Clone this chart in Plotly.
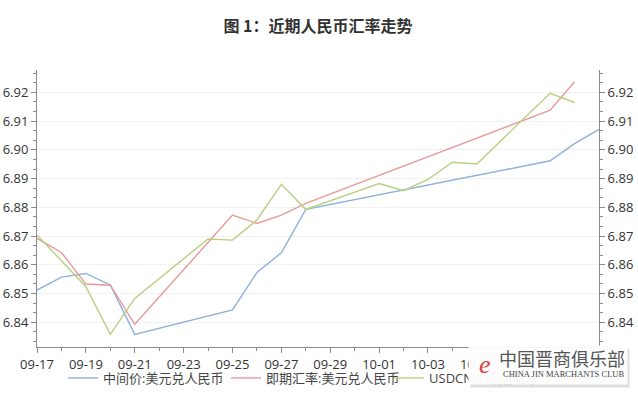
import plotly.graph_objects as go

# ---- data ----
blue_dates = ["2018-09-17", "2018-09-18", "2018-09-19", "2018-09-20", "2018-09-21",
              "2018-09-25", "2018-09-26", "2018-09-27", "2018-09-28",
              "2018-10-08", "2018-10-09", "2018-10-10"]
blue_vals = [6.8512, 6.8557, 6.8570, 6.8530, 6.8358,
             6.8443, 6.8573, 6.8642, 6.8793,
             6.8962, 6.9022, 6.9071]

red_dates = ["2018-09-17", "2018-09-18", "2018-09-19", "2018-09-20", "2018-09-21",
             "2018-09-25", "2018-09-26", "2018-09-27", "2018-09-28",
             "2018-10-08", "2018-10-09"]
red_vals = [6.8692, 6.8643, 6.8533, 6.8529, 6.8393,
            6.8773, 6.8744, 6.8773, 6.8814,
            6.9138, 6.9237]

green_dates = ["2018-09-17", "2018-09-18", "2018-09-19", "2018-09-20", "2018-09-21",
               "2018-09-24", "2018-09-25", "2018-09-26", "2018-09-27", "2018-09-28",
               "2018-10-01", "2018-10-02", "2018-10-03", "2018-10-04", "2018-10-05",
               "2018-10-08", "2018-10-09"]
green_vals = [6.8704, 6.8614, 6.8524, 6.8358, 6.8483,
              6.8690, 6.8686, 6.8756, 6.8880, 6.8793,
              6.8883, 6.8858, 6.8897, 6.8957, 6.8951,
              6.9197, 6.9165]

series_names = ["中间价:美元兑人民币", "即期汇率:美元兑人民币", "USDCNH:即期汇率"]
series_colors = ["#8db1dc", "#e79a9a", "#b9cf82"]

# x tick labels (10-07 and 10-09 are hidden under the watermark in the source)
tick_dates = ["2018-09-17", "2018-09-19", "2018-09-21", "2018-09-23", "2018-09-25",
              "2018-09-27", "2018-09-29", "2018-10-01", "2018-10-03", "2018-10-05",
              "2018-10-07", "2018-10-09"]
tick_labels = ["09-17", "09-19", "09-21", "09-23", "09-25",
               "09-27", "09-29", "10-01", "10-03", "10-05", "", ""]

x_range = ["2018-09-17", "2018-10-10"]
y_range = [6.8314, 6.9278]
title_text = "图 1：近期人民币汇率走势"
watermark_cn = "中国晋商俱乐部"
watermark_en = "CHINA JIN MARCHANTS CLUB"

FONT = "Open Sans, Noto Sans CJK SC, sans-serif"

fig = go.Figure()
for d, v, n, c in zip([blue_dates, red_dates, green_dates],
                      [blue_vals, red_vals, green_vals],
                      series_names, series_colors):
    fig.add_trace(go.Scatter(x=d, y=v, name=n, mode="lines",
                             line=dict(color=c, width=1.4)))

# invisible trace on the right axis so it renders
fig.add_trace(go.Scatter(x=blue_dates, y=blue_vals, yaxis="y2", mode="lines",
                         line=dict(color="rgba(0,0,0,0)"), showlegend=False,
                         hoverinfo="skip"))

axis_col = "#8a8a8a"
common_y = dict(range=y_range, dtick=0.01, tick0=6.84, tickformat=".2f",
                ticks="outside", ticklen=5, tickcolor=axis_col,
                showline=True, linecolor=axis_col, linewidth=1,
                tickfont=dict(family=FONT, size=13, color="#333"),
                minor=dict(dtick=0.01 / 3, tick0=6.84, ticks="outside",
                           ticklen=3, tickcolor=axis_col, showgrid=False),
                zeroline=False, automargin=False)

fig.update_layout(
    width=638, height=397,
    margin=dict(l=37, r=39, t=70, b=50),
    paper_bgcolor="white", plot_bgcolor="white",
    title=dict(text=title_text, x=0.5, xref="paper", xanchor="center",
               y=1 - 26 / 397, yref="container", yanchor="middle",
               font=dict(family="Noto Sans CJK SC", size=16, color="#333",
                         weight="bold")),
    xaxis=dict(type="date", range=x_range, tickmode="array",
               tickvals=tick_dates, ticktext=tick_labels,
               ticks="outside", ticklen=5, tickcolor=axis_col,
               showline=True, linecolor=axis_col, linewidth=1,
               showgrid=False, zeroline=False, automargin=False,
               tickfont=dict(family=FONT, size=13, color="#333"),
               minor=dict(dtick=86400000, tick0="2018-09-17", ticks="outside",
                          ticklen=3, tickcolor=axis_col, showgrid=False)),
    yaxis=dict(side="left", showgrid=True, gridcolor="#f1f1f1", gridwidth=1,
               **common_y),
    yaxis2=dict(side="right", overlaying="y", showgrid=False, **common_y),
    legend=dict(orientation="h", x=0.0463, xanchor="left",
                yref="container", y=(397 - 378) / 397, yanchor="middle",
                itemwidth=30, entrywidth=118,
                font=dict(family=FONT, size=13, color="#444"),
                bgcolor="rgba(0,0,0,0)"),
    showlegend=True,
)

# watermark box (with a faint shadow)
fig.add_annotation(xref="paper", yref="paper", x=(470 - 37) / 562, y=(347 - 348) / 277,
                   xanchor="left", yanchor="top", showarrow=False,
                   text="&nbsp;", width=158, height=38,
                   bgcolor="rgba(200,200,200,0.6)", borderpad=0)
fig.add_annotation(xref="paper", yref="paper", x=(468 - 37) / 562, y=(347 - 345) / 277,
                   xanchor="left", yanchor="top", showarrow=False,
                   text="&nbsp;", width=158, height=38,
                   bgcolor="rgba(255,255,255,0.93)", borderpad=0)
fig.add_annotation(xref="paper", yref="paper", x=(627 - 37) / 562, y=(347 - 358) / 277,
                   xanchor="right", yanchor="middle", showarrow=False,
                   text=watermark_cn,
                   font=dict(family="Noto Sans CJK SC", size=18, color="#555"))
fig.add_annotation(xref="paper", yref="paper", x=(626 - 37) / 562, y=(347 - 374) / 277,
                   xanchor="right", yanchor="middle", showarrow=False,
                   text=watermark_en,
                   font=dict(family="Liberation Serif", size=8.5, color="#444"))
fig.add_annotation(xref="paper", yref="paper", x=(485 - 37) / 562, y=(347 - 364) / 277,
                   xanchor="center", yanchor="middle", showarrow=False,
                   text="<i>e</i>",
                   font=dict(family="Liberation Serif", size=26, color="#d8453f"))

fig.write_html("out.html")
